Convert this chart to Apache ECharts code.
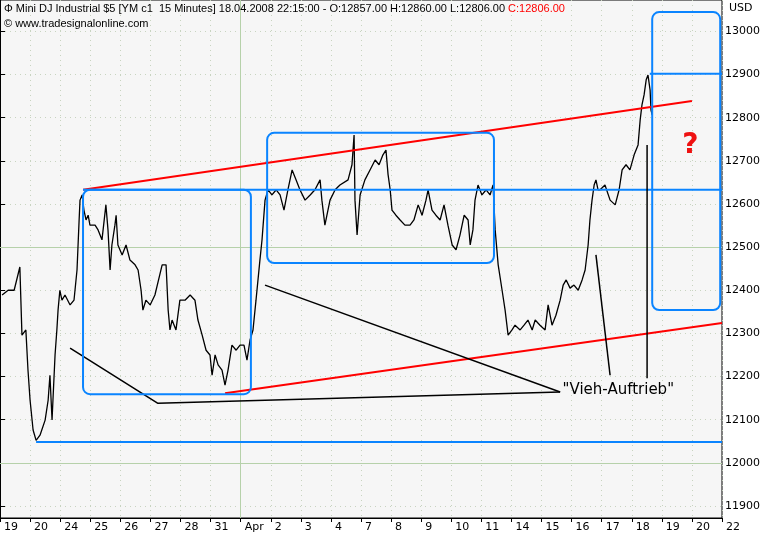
<!DOCTYPE html>
<html>
<head>
<meta charset="utf-8">
<script src="https://cdn.jsdelivr.net/npm/echarts@6/dist/echarts.min.js"></script>
<style>html,body{margin:0;padding:0;background:#fff}#chart{width:769px;height:536px}</style>
</head>
<body>
<div id="chart"></div>
<script>
// x = trading day offset (0 = 19 Mar), y = price
var dayLabels = ['19','20','24','25','26','27','28','31','Apr','2','3','4','7','8','9','10','11','14','15','16','17','18','19','20','22'];
var priceTicks = [11900,12000,12100,12200,12300,12400,12500,12600,12700,12800,12900,13000];

var days = [0.07,0.27,0.47,0.66,0.73,0.86,0.93,1.00,1.10,1.20,1.33,1.50,1.60,1.66,1.73,1.76,1.83,1.89,1.93,1.99,2.06,2.16,2.33,2.46,2.56,2.63,2.66,2.73,2.79,2.86,2.93,2.99,3.16,3.26,3.39,3.52,3.59,3.66,3.72,3.82,3.86,3.92,4.06,4.19,4.32,4.49,4.59,4.69,4.75,4.85,4.99,5.15,5.39,5.52,5.59,5.65,5.72,5.85,5.98,6.15,6.32,6.48,6.58,6.72,6.85,6.98,7.05,7.15,7.25,7.38,7.48,7.58,7.71,7.85,7.98,8.11,8.21,8.31,8.41,8.51,8.64,8.71,8.81,8.91,9.04,9.18,9.31,9.44,9.57,9.71,9.84,9.97,10.14,10.31,10.47,10.64,10.70,10.80,10.97,11.14,11.30,11.57,11.70,11.77,11.80,11.87,11.97,12.13,12.30,12.47,12.60,12.73,12.83,12.90,12.97,13.03,13.16,13.30,13.46,13.63,13.76,13.90,14.03,14.16,14.23,14.36,14.49,14.63,14.76,14.89,15.03,15.16,15.29,15.43,15.56,15.63,15.72,15.79,15.89,16.02,16.16,16.29,16.39,16.46,16.56,16.69,16.79,16.89,17.02,17.12,17.29,17.42,17.55,17.69,17.79,17.95,18.12,18.22,18.35,18.48,18.62,18.72,18.82,18.95,19.08,19.22,19.35,19.45,19.55,19.61,19.68,19.75,19.81,19.88,19.95,20.11,20.28,20.45,20.58,20.68,20.81,20.94,21.08,21.21,21.28,21.34,21.41,21.48,21.54,21.61,21.64,21.68,21.74,21.81];
var prices = [12389,12400,12400,12454,12296,12308,12215,12145,12076,12052,12064,12099,12145,12203,12099,12145,12250,12308,12354,12400,12377,12389,12366,12377,12447,12563,12609,12621,12586,12563,12574,12551,12551,12540,12517,12598,12540,12447,12505,12551,12574,12505,12482,12505,12470,12459,12447,12400,12354,12377,12366,12389,12459,12459,12354,12308,12331,12308,12377,12377,12389,12377,12331,12296,12261,12250,12203,12250,12227,12215,12180,12215,12273,12261,12273,12273,12238,12284,12308,12377,12470,12517,12609,12633,12621,12633,12621,12586,12633,12679,12656,12633,12609,12621,12633,12656,12609,12551,12609,12633,12644,12656,12691,12760,12609,12528,12621,12656,12679,12702,12691,12714,12725,12668,12633,12586,12574,12563,12551,12551,12563,12598,12574,12609,12633,12586,12574,12563,12598,12551,12505,12494,12528,12574,12563,12505,12540,12609,12644,12621,12633,12621,12644,12540,12459,12400,12354,12296,12308,12319,12308,12319,12331,12308,12331,12319,12308,12366,12319,12342,12377,12412,12424,12405,12412,12400,12424,12447,12505,12563,12609,12644,12656,12633,12633,12644,12609,12598,12633,12679,12691,12679,12714,12737,12795,12830,12853,12888,12899,12864,12818,12806];

var upperRed = [[2.76,12633],[23.0,12839]];
var lowerRed = [[7.48,12161],[24.0,12324]];
var blueLines = [[[2.76,12633],[24.0,12633]],[[1.2,12048],[24.0,12048]],[[21.6,12902],[24.0,12902]]];
var blackLines = [[[2.33,12266],[5.25,12138],[18.62,12164]],[[8.81,12412],[18.62,12164]],[[19.81,12482],[20.28,12203]],[[21.51,12737],[21.51,12196]]];
var boxes = [[2.76,12633,8.34,12159],[8.88,12765,16.42,12463],[21.68,13045,23.94,12354]];

var chart = echarts.init(document.getElementById('chart'));
var series = [{
  type: 'line', symbol: 'none', data: days.map(function (d, i) { return [d, prices[i]]; }),
  lineStyle: { color: '#000', width: 1.3 }, z: 5,
  markLine: { silent: true, symbol: 'none', label: { show: false },
    lineStyle: { color: '#b6d1aa', type: 'solid', width: 1 },
    data: [{ yAxis: 12500 }, { yAxis: 12000 }, { xAxis: 8 }] }
}, {
  type: 'line', symbol: 'none', data: upperRed, lineStyle: { color: '#ff0000', width: 2 }, z: 6
}, {
  type: 'line', symbol: 'none', data: lowerRed, lineStyle: { color: '#ff0000', width: 2 }, z: 6
}];
blueLines.forEach(function (l) {
  series.push({ type: 'line', symbol: 'none', data: l, lineStyle: { color: '#0a84ff', width: 2 }, z: 7 });
});
blackLines.forEach(function (l) {
  series.push({ type: 'line', symbol: 'none', data: l, lineStyle: { color: '#000', width: 1.5 }, z: 7 });
});
series.push({
  type: 'custom', data: boxes, z: 8, clip: false,
  renderItem: function (params, api) {
    var a = api.coord([api.value(0), api.value(1)]);
    var b = api.coord([api.value(2), api.value(3)]);
    return { type: 'rect', shape: { x: a[0], y: a[1], width: b[0] - a[0], height: b[1] - a[1], r: 7 },
      style: { fill: 'none', stroke: '#0a84ff', lineWidth: 2 } };
  }
});
series.push({
  type: 'scatter', symbolSize: 0, z: 9,
  data: [{ value: [18.7, 12168], label: { formatter: '"Vieh-Auftrieb"', position: 'right', distance: 0, fontSize: 15, color: '#000', opacity: 1 } },
         { value: [22.95, 12735], label: { formatter: '?', position: 'inside', fontSize: 28, fontWeight: 'bold', color: '#ee1111', opacity: 1 } }],
  label: { show: true, fontFamily: 'DejaVu Sans', color: '#000' },
  itemStyle: { opacity: 1 }
});

var option = {
  animation: false,
  backgroundColor: '#fff',
  grid: { left: 0, right: 47, top: 0, bottom: 18, show: true, backgroundColor: '#f6f6f6', borderColor: '#000', borderWidth: 1 },
  xAxis: {
    type: 'value', min: 0, max: 24, interval: 1,
    axisLine: { lineStyle: { color: '#000' } },
    axisTick: { show: true, length: 4, lineStyle: { color: '#000' } },
    axisLabel: { color: '#000', fontSize: 11, fontFamily: 'DejaVu Sans', margin: 4, align: 'left', padding: [0, 0, 0, 4],
      showMaxLabel: true, formatter: function (v) { return dayLabels[Math.round(v)] || ''; } },
    splitLine: { show: true, lineStyle: { color: '#c8d4c0', type: [1, 4] } }
  },
  yAxis: {
    type: 'value', position: 'right', min: 11872, max: 13073,
    axisLine: { show: true, lineStyle: { color: '#000' } },
    axisTick: { show: true, length: 5, customValues: priceTicks, lineStyle: { color: '#000' } },
    axisLabel: { color: '#000', fontSize: 11, fontFamily: 'DejaVu Sans', margin: 3, customValues: priceTicks,
      formatter: function (v) { return String(v); } },
    splitLine: { show: true, lineStyle: { color: '#c8d4c0', type: [1, 4] } }
  },
  graphic: [
    { type: 'text', left: 4, top: 3, style: { rich: { r: { fill: '#ff0000', fontSize: 11, fontFamily: 'Liberation Sans' } },
      text: '\u03a6 Mini DJ Industrial $5 [YM c1  15 Minutes] 18.04.2008 22:15:00 - O:12857.00 H:12860.00 L:12806.00 {r|C:12806.00}',
      fill: '#000', fontSize: 11, fontFamily: 'Liberation Sans' }, z: 20 },
    { type: 'text', left: 4, top: 18, style: { text: '\u00a9 www.tradesignalonline.com', fill: '#000', fontSize: 11, fontFamily: 'Liberation Sans' }, z: 20 },
    { type: 'text', left: 729, top: 3, style: { text: 'USD', fill: '#000', fontSize: 11, fontFamily: 'DejaVu Sans' }, z: 20 }
  ],
  series: series
};
chart.setOption(option);
</script>
</body>
</html>
